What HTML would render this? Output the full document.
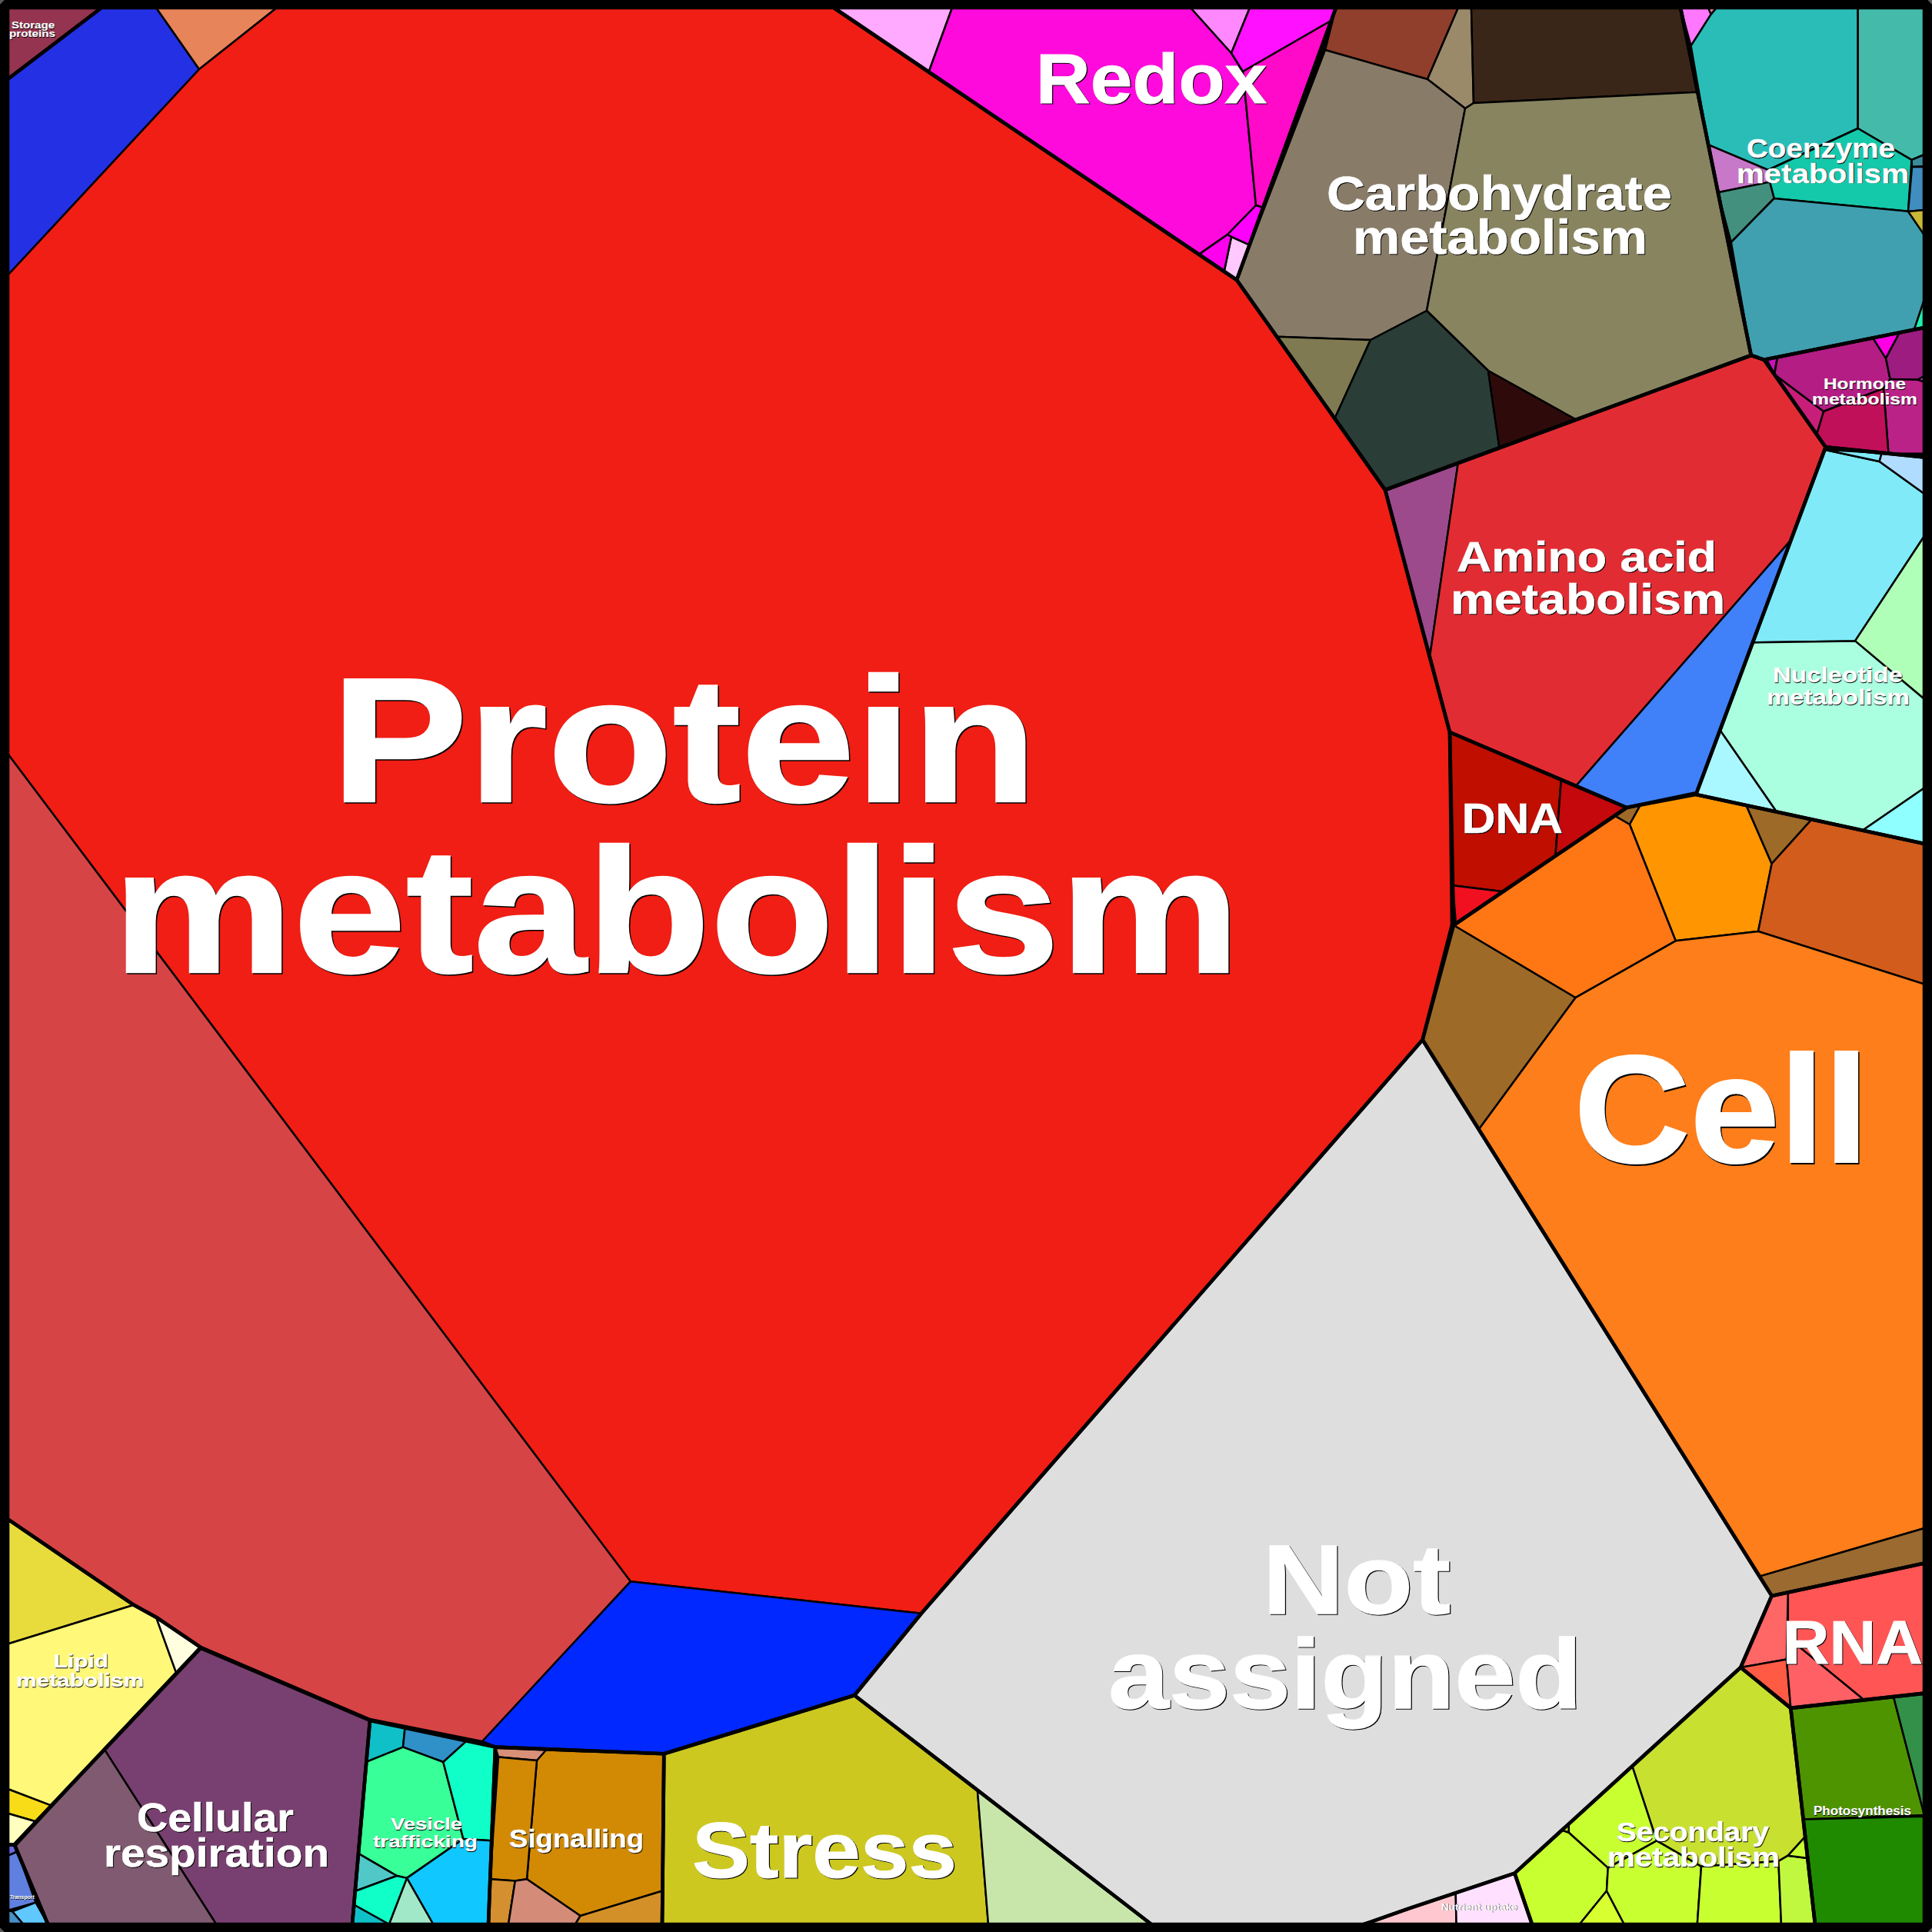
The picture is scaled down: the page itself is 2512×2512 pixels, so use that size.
<!DOCTYPE html><html><head><meta charset="utf-8"><style>html,body{margin:0;padding:0;background:#000;}svg{display:block;}</style></head><body>
<svg width="2512" height="2512" viewBox="0 0 2512 2512">
<rect x="0" y="0" width="2512" height="2512" fill="#5a5a5a"/>
<polygon fill="#000" points="6,0 2506,0 2512,6 2512,2506 2506,2512 6,2512 0,2506 0,6"/>
<g stroke="#000" stroke-width="2.5" stroke-linejoin="round">
<polygon fill="#943450" points="10,10 132,10 10,103"/>
<polygon fill="#2430E4" points="10,103 132,10 203,10 259,90 10,358"/>
<polygon fill="#E8845A" points="203,10 360,10 259,90"/>
<polygon fill="#F01E14" points="10,358 259,90 360,10 1084,10 1608,364 1801,637 1885,952 1888,1202 1849.6,1352 1198,2097.7 819.8,2056.3 10,980"/>
<polygon fill="#D74445" points="10,980 819.8,2056.3 626.3,2265 481,2236 260.9,2141.9 203,2102.7 174,2086.8 10,1975.2"/>
<polygon fill="#0028FF" points="819.8,2056.3 1198,2097.7 1111,2204.2 863.3,2280.3 644,2271.6 626.3,2265"/>
<polygon fill="#FFAAFF" points="1084,10 1238,10 1207.16,94.7352"/>
<polygon fill="#FF0ADD" points="1238,10 1548,10 1601,69 1616,93 1633,267 1596,305 1558.72,330.899 1207.16,94.7352"/>
<polygon fill="#FF88FF" points="1548,10 1625,10 1601,69"/>
<polygon fill="#FF10FF" points="1625,10 1737,10 1731.77,26.2809 1616,93 1601,69"/>
<polygon fill="#FF0AC8" points="1616,93 1731.77,26.2809 1642.48,269.91 1633,267"/>
<polygon fill="#FF00FF" points="1633,267 1642.48,269.91 1624.64,318.6 1601,308 1596,305"/>
<polygon fill="#FFC8FF" points="1601,308 1624.64,318.6 1608,364 1591.65,353.015"/>
<polygon fill="#FF00EE" points="1596,305 1601,308 1591.65,353.015 1558.72,330.899"/>
<polygon fill="#8F3F2C" points="1737,10 1896,10 1856,103 1723,65"/>
<polygon fill="#9A8A6A" points="1896,10 1913,10 1916,134 1905,141 1856,103"/>
<polygon fill="#3A2618" points="1913,10 2185,10 2206.99,119.798 1916,134"/>
<polygon fill="#887C68" points="1723,65 1856,103 1905,141 1855,404 1782,442 1660.07,437.656 1608,364"/>
<polygon fill="#888460" points="1905,141 1916,134 2206.99,119.798 2276.8,462 2049.25,545.692 1935,482 1855,404"/>
<polygon fill="#7F7A52" points="1660.07,437.656 1782,442 1735.36,544.157"/>
<polygon fill="#2A3D37" points="1782,442 1855,404 1935,482 1949.51,582.379 1801,637 1735.36,544.157"/>
<polygon fill="#2E0B0A" points="1935,482 2049.25,545.692 1949.51,582.379"/>
<polygon fill="#FF77FF" points="2185,10 2221,10 2224.7,18.6 2198.6,59.6"/>
<polygon fill="#FF88AA" points="2221,10 2232,10 2224.7,18.6"/>
<polygon fill="#2ABDB8" points="2232,10 2415.7,10 2415.7,167 2299,221 2220.95,188.215 2198.6,59.6 2224.7,18.6"/>
<polygon fill="#44BBAA" points="2415.7,10 2502,10 2502,201 2485.5,207.8 2415.7,167"/>
<polygon fill="#14C8AA" points="2415.7,167 2485.5,207.8 2481,274.8 2306.7,258 2301,236.6 2299,221"/>
<polygon fill="#C878C8" points="2220.95,188.215 2299,221 2301,236.6 2233.62,250.348"/>
<polygon fill="#44907F" points="2233.62,250.348 2301,236.6 2306.7,258 2250.8,315"/>
<polygon fill="#40A0B0" points="2250.8,315 2306.7,258 2481,274.8 2502,305.6 2502,389.4 2489,428.222 2293.6,467.7 2276.8,462"/>
<polygon fill="#20F0B0" points="2502,389.4 2489,428.222 2502,426"/>
<polygon fill="#3A8A9A" points="2485.5,207.8 2502,201 2502,216 2486,217"/>
<polygon fill="#3F8EBF" points="2486,217 2502,217 2502,273 2481,275"/>
<polygon fill="#C8B836" points="2481,275 2502,273 2502,305.6"/>
<polygon fill="#CC10BB" points="2297,467.013 2311,464.185 2306.88,486.544"/>
<polygon fill="#B31D84" points="2311,464.185 2434.99,439.135 2452,465.8 2457.6,492.9 2449,505 2371,535 2307.16,486.945"/>
<polygon fill="#FF00E6" points="2434.99,439.135 2469.99,432.063 2452,465.8"/>
<polygon fill="#9C1C80" points="2469.99,432.063 2502,426 2502,489 2493,493.8 2457.6,492.9 2452,465.8"/>
<polygon fill="#D040E0" points="2493,493.8 2502,489 2502,496.6"/>
<polygon fill="#BB2288" points="2457.6,493 2493,493.8 2502,496.6 2502,589.7 2455.41,589.81 2449,505"/>
<polygon fill="#C0105A" points="2371,535 2449,505 2455.41,589.81 2373.7,581.4 2361.98,564.768"/>
<polygon fill="#C81E7A" points="2307.16,486.945 2371,535 2361.98,564.768"/>
<polygon fill="#9C4A8C" points="1801,637 1895.77,602.143 1858.98,854.419"/>
<polygon fill="#E22C33" points="1895.77,602.143 2276.8,462 2293.6,467.7 2373.7,581.4 2328.62,702.08 2049.02,1021.89 1885,952 1858.98,854.419"/>
<polygon fill="#4080F8" points="2328.62,702.08 2206,1031 2115,1050 2049.02,1021.89"/>
<polygon fill="#80EAF8" points="2372.43,584.816 2443.6,600 2502,642 2502,697 2412,833.4 2278.94,835.455"/>
<polygon fill="#80EAF8" points="2372.43,584.816 2446.72,588.916 2443.6,600"/>
<polygon fill="#B0DCFF" points="2446.72,588.916 2502,594.4 2502,642 2443.6,600"/>
<polygon fill="#B0FFB8" points="2502,697 2412,833.4 2502,909"/>
<polygon fill="#AAFFE0" points="2278.94,835.455 2412,833.4 2502,909 2502,1024.5 2421.3,1079.93 2310.01,1055.78 2236.43,949.415"/>
<polygon fill="#AAF8FF" points="2236.43,949.415 2310.01,1055.78 2205,1033"/>
<polygon fill="#90FFFF" points="2421.3,1079.93 2502,1024.5 2502,1097"/>
<polygon fill="#C00E00" points="1885,952 2029.85,1013.72 2022.34,1113.01 1954.18,1159.35 1888.97,1151.26"/>
<polygon fill="#C4080C" points="2029.85,1013.72 2115,1050 2022.34,1113.01"/>
<polygon fill="#F01020" points="1888.97,1151.26 1954.18,1159.35 1892.93,1201.01"/>
<polygon fill="#9E6A28" points="2099.43,1060.59 2115,1050 2132.93,1046.61 2118.9,1072"/>
<polygon fill="#FF9500" points="2132.93,1046.61 2205,1033 2270.58,1047.23 2303.6,1123 2286,1211 2178.7,1223.3 2118.9,1072"/>
<polygon fill="#FF7715" points="1890,1203 2099.43,1060.59 2118.9,1072 2178.7,1223.3 2048.5,1297.2"/>
<polygon fill="#9E6A28" points="2270.58,1047.23 2355.33,1065.61 2303.6,1123"/>
<polygon fill="#D15C1C" points="2355.33,1065.61 2502,1097 2502,1279.6 2286,1211 2303.6,1123"/>
<polygon fill="#9E6A28" points="1890,1203 2048.5,1297.2 1922.75,1468.47 1849.6,1352"/>
<polygon fill="#FD7E1A" points="2048.5,1297.2 2178.7,1223.3 2286,1211 2502,1279.6 2502,1987 2287.75,2049.66 1922.75,1468.47"/>
<polygon fill="#9A6A30" points="2287.75,2049.66 2502,1987 2502,2032.6 2303.6,2074.9"/>
<polygon fill="#DEDEDE" points="1849.6,1352 2303.6,2074.9 2263.2,2168 1969.3,2435.6 1832,2481.4 1773.2,2502 1497,2502 1111,2204.2 1198,2097.7"/>
<polygon fill="#FF5555" points="2303.6,2074.9 2502,2032.6 2502,2201.6 2423.55,2210.19 2324.8,2129.4 2324.81,2070.33"/>
<polygon fill="#FF6666" points="2303.6,2074.9 2324.81,2070.33 2323,2157.6 2263.2,2168"/>
<polygon fill="#FF5A44" points="2263.2,2168 2323,2157.6 2328.3,2220.9"/>
<polygon fill="#FF6065" points="2324.8,2129.4 2423.55,2210.19 2328.3,2220.9 2323,2157.6"/>
<polygon fill="#4E9400" points="2328.3,2220.9 2461.9,2205.88 2502,2360 2344.73,2365.53"/>
<polygon fill="#339048" points="2461.9,2205.88 2502,2201.6 2502,2360 2502,2360"/>
<polygon fill="#1F8A00" points="2344.73,2365.53 2502,2361.7 2502,2502 2360,2502"/>
<polygon fill="#C8E030" points="2263.2,2168 2328.3,2220.9 2347.26,2387.86 2324.8,2412.7 2312.4,2419.8 2212,2426.8 2154,2393.4 2122.23,2296.36"/>
<polygon fill="#C8FF30" points="2122.23,2296.36 2154,2393.4 2090.7,2428.6 2039.7,2382.8 2039.7,2371.5"/>
<polygon fill="#B8E020" points="2030.71,2379.68 2039.7,2371.5 2039.7,2382.8"/>
<polygon fill="#C8FF30" points="2039.7,2382.8 2090.7,2428.6 2089,2458.5 2053.7,2502 1992,2502 1969.3,2435.6 2030.71,2379.68"/>
<polygon fill="#D8FF30" points="2053.7,2502 2089,2458.5 2111.8,2502"/>
<polygon fill="#C8FF30" points="2090.7,2428.6 2154,2393.4 2212,2426.8 2206.8,2502 2111.8,2502 2089,2458.5"/>
<polygon fill="#C8FF30" points="2212,2426.8 2312.4,2419.8 2316,2502 2206.8,2502"/>
<polygon fill="#C0F840" points="2312.4,2419.8 2324.8,2412.7 2350.46,2415.98 2360,2502 2316,2502"/>
<polygon fill="#C8FF30" points="2324.8,2412.7 2347.26,2387.86 2350.46,2415.98"/>
<polygon fill="#FFC8D0" points="1832,2481.4 1892.71,2461.15 1893.6,2502 1773.2,2502"/>
<polygon fill="#FFE0FF" points="1892.71,2461.15 1969.3,2435.6 1992,2502 1893.6,2502"/>
<polygon fill="#CCC820" points="863.3,2280.3 1111,2204.2 1270.82,2326.67 1285,2502 861,2502"/>
<polygon fill="#C8E6AA" points="1270.82,2326.67 1497,2502 1285,2502"/>
<polygon fill="#D28A04" points="698.089,2273.75 863.3,2280.3 861.434,2458.53 754.6,2491 685,2443.3 698,2289"/>
<polygon fill="#D89078" points="644,2271.6 711.069,2274.26 698,2289 648,2284.6"/>
<polygon fill="#D28A04" points="648,2284.6 698,2289 685,2443.3 669.8,2445.5 637.238,2443.21"/>
<polygon fill="#D49030" points="637.238,2443.21 669.8,2445.5 661,2502 635,2502"/>
<polygon fill="#D48C78" points="669.8,2445.5 685,2443.3 754.6,2491 748,2502 661,2502"/>
<polygon fill="#D49028" points="754.6,2491 861.434,2458.53 861,2502 748,2502"/>
<polygon fill="#10C0C8" points="481,2237 526.52,2246.66 524,2271.6 476.294,2290.81"/>
<polygon fill="#3090C8" points="526.52,2246.66 606.657,2263.67 576.3,2291 524,2271.6"/>
<polygon fill="#38FF98" points="476.294,2290.81 524,2271.6 576.3,2291 602.4,2391 529,2441.9 516,2439 465.877,2409.93"/>
<polygon fill="#10FFC8" points="606.657,2263.67 644,2271.6 639.205,2393.29 602.4,2391 576.3,2291"/>
<polygon fill="#10C8FF" points="602.4,2391 639.205,2393.29 635,2502 563.3,2502 529,2441.9"/>
<polygon fill="#A0E8C8" points="529,2441.9 563.3,2502 505.8,2502"/>
<polygon fill="#50C8C8" points="465.877,2409.93 516,2439 461.585,2459.01"/>
<polygon fill="#10FFC8" points="461.585,2459.01 516,2439 529,2441.9 505.8,2502 460.053,2476.53"/>
<polygon fill="#10C0C8" points="460.053,2476.53 505.8,2502 458,2502"/>
<polygon fill="#E8DC3C" points="10,1975.2 174,2086.8 10,2137.5"/>
<polygon fill="#FFF878" points="10,2137.5 174,2086.8 203,2102.7 229.248,2175.43 135.887,2274.88 66.6755,2347.68 10,2326"/>
<polygon fill="#FFFFE0" points="203,2102.7 260.9,2141.9 229.248,2175.43"/>
<polygon fill="#F8DC18" points="10,2326 66.6755,2347.68 46.9782,2368.55 10,2357.8"/>
<polygon fill="#FFFFC0" points="10,2357.8 46.9782,2368.55 18.8,2398.4 10,2398.4"/>
<polygon fill="#784070" points="260.9,2143 481,2237 458,2502 281.2,2502 135.887,2274.88"/>
<polygon fill="#7F5A70" points="135.887,2274.88 281.2,2502 62.3,2502 19.7558,2400.63"/>
<polygon fill="#6A6AE0" points="10,2398.4 18.8,2398.4 22.6868,2407.48 10,2412.9"/>
<polygon fill="#6080E0" points="10,2412.9 22.6868,2407.48 46.4,2473.7 10,2484"/>
<polygon fill="#60C8FF" points="16,2485.3 46.4,2473.7 62.3,2502 30.4,2502"/>
<polygon fill="#4890C8" points="10,2484 16,2485.3 30.4,2502 10,2502"/>
</g>
<g fill="none" stroke="#000" stroke-width="4.6" stroke-linejoin="round">
<polygon points="10,10 132,10 10,103"/>
<polygon points="132,10 1084,10 1608,364 1801,637 1885,952 1888,1202 1849.6,1352 1198,2097.7 1111,2204.2 863.3,2280.3 644,2271.6 626.3,2265 481,2236 260.9,2141.9 203,2102.7 174,2086.8 10,1975.2 10,103"/>
<polygon points="1084,10 1737,10 1608,364"/>
<polygon points="1737,10 2185,10 2276.8,462 1801,637 1608,364"/>
<polygon points="2185,10 2502,10 2502,426 2293.6,467.7 2276.8,462"/>
<polygon points="2293.6,467.7 2502,426 2502,594.4 2373.7,581.4"/>
<polygon points="1801,637 2276.8,462 2293.6,467.7 2373.7,581.4 2206,1031 2115,1050 1885,952"/>
<polygon points="2373.7,581.4 2502,594.4 2502,1097 2205,1033"/>
<polygon points="1885,952 2115,1050 1890,1203"/>
<polygon points="1890,1203 2115,1050 2205,1033 2502,1097 2502,2032.6 2303.6,2074.9 1849.6,1352"/>
<polygon points="1849.6,1352 2303.6,2074.9 2263.2,2168 1969.3,2435.6 1832,2481.4 1773.2,2502 1497,2502 1111,2204.2 1198,2097.7"/>
<polygon points="2303.6,2074.9 2502,2032.6 2502,2201.6 2328.3,2220.9 2263.2,2168"/>
<polygon points="2328.3,2220.9 2502,2201.6 2502,2502 2360,2502"/>
<polygon points="2263.2,2168 2328.3,2220.9 2360,2502 1992,2502 1969.3,2435.6"/>
<polygon points="1969.3,2435.6 1992,2502 1773.2,2502 1832,2481.4"/>
<polygon points="863.3,2280.3 1111,2204.2 1497,2502 861,2502"/>
<polygon points="644,2271.6 863.3,2280.3 861,2502 635,2502"/>
<polygon points="481,2237 644,2271.6 635,2502 458,2502"/>
<polygon points="10,1975.2 174,2086.8 203,2102.7 260.9,2141.9 18.8,2398.4 10,2398.4"/>
<polygon points="260.9,2143 481,2237 458,2502 62.3,2502 18.8,2398.4"/>
<polygon points="18.8,2398.4 62.3,2502 10,2502 10,2398.4"/>
</g>
<path fill="#000" fill-rule="evenodd" d="M6,0 H2506 L2512,6 V2506 L2506,2512 H6 L0,2506 V6 Z M12,12 V2500.5 H2500.5 V12 Z"/>
<g font-family="Liberation Sans, sans-serif" font-weight="bold" opacity="0.999">
<text x="15.57" y="37.70" fill="#000" stroke="#000" font-size="12.57" textLength="56.05" lengthAdjust="spacingAndGlyphs" stroke-width="0.13">Storage</text>
<text x="14.97" y="37.10" fill="#fff" stroke="#fff" font-size="12.57" textLength="56.05" lengthAdjust="spacingAndGlyphs" stroke-width="0.13">Storage</text>
<text x="12.58" y="48.60" fill="#000" stroke="#000" font-size="12.57" textLength="60.04" lengthAdjust="spacingAndGlyphs" stroke-width="0.13">proteins</text>
<text x="11.98" y="48.00" fill="#fff" stroke="#fff" font-size="12.57" textLength="60.04" lengthAdjust="spacingAndGlyphs" stroke-width="0.13">proteins</text>
<text x="1348.05" y="134.70" fill="#000" stroke="#000" font-size="91.26" textLength="300.19" lengthAdjust="spacingAndGlyphs" stroke-width="0.91">Redox</text>
<text x="1346.85" y="133.50" fill="#fff" stroke="#fff" font-size="91.26" textLength="300.19" lengthAdjust="spacingAndGlyphs" stroke-width="0.91">Redox</text>
<text x="1725.97" y="274.30" fill="#000" stroke="#000" font-size="63.14" textLength="449.05" lengthAdjust="spacingAndGlyphs" stroke-width="0.63">Carbohydrate</text>
<text x="1724.97" y="273.30" fill="#fff" stroke="#fff" font-size="63.14" textLength="449.05" lengthAdjust="spacingAndGlyphs" stroke-width="0.63">Carbohydrate</text>
<text x="1759.92" y="330.60" fill="#000" stroke="#000" font-size="63.14" textLength="383.18" lengthAdjust="spacingAndGlyphs" stroke-width="0.63">metabolism</text>
<text x="1758.92" y="329.60" fill="#fff" stroke="#fff" font-size="63.14" textLength="383.18" lengthAdjust="spacingAndGlyphs" stroke-width="0.63">metabolism</text>
<text x="2271.77" y="205.80" fill="#000" stroke="#000" font-size="34.30" textLength="193.04" lengthAdjust="spacingAndGlyphs" stroke-width="0.34">Coenzyme</text>
<text x="2270.97" y="205.00" fill="#fff" stroke="#fff" font-size="34.30" textLength="193.04" lengthAdjust="spacingAndGlyphs" stroke-width="0.34">Coenzyme</text>
<text x="2258.74" y="238.40" fill="#000" stroke="#000" font-size="34.30" textLength="224.10" lengthAdjust="spacingAndGlyphs" stroke-width="0.34">metabolism</text>
<text x="2257.94" y="237.60" fill="#fff" stroke="#fff" font-size="34.30" textLength="224.10" lengthAdjust="spacingAndGlyphs" stroke-width="0.34">metabolism</text>
<text x="2371.56" y="506.50" fill="#000" stroke="#000" font-size="21.01" textLength="107.05" lengthAdjust="spacingAndGlyphs" stroke-width="0.21">Hormone</text>
<text x="2370.96" y="505.90" fill="#fff" stroke="#fff" font-size="21.01" textLength="107.05" lengthAdjust="spacingAndGlyphs" stroke-width="0.21">Hormone</text>
<text x="2356.58" y="526.60" fill="#000" stroke="#000" font-size="21.01" textLength="137.04" lengthAdjust="spacingAndGlyphs" stroke-width="0.21">metabolism</text>
<text x="2355.98" y="526.00" fill="#fff" stroke="#fff" font-size="21.01" textLength="137.04" lengthAdjust="spacingAndGlyphs" stroke-width="0.21">metabolism</text>
<text x="1894.97" y="744.30" fill="#000" stroke="#000" font-size="56.24" textLength="338.10" lengthAdjust="spacingAndGlyphs" stroke-width="0.56">Amino acid</text>
<text x="1893.97" y="743.30" fill="#fff" stroke="#fff" font-size="56.24" textLength="338.10" lengthAdjust="spacingAndGlyphs" stroke-width="0.56">Amino acid</text>
<text x="1886.90" y="799.00" fill="#000" stroke="#000" font-size="56.24" textLength="357.17" lengthAdjust="spacingAndGlyphs" stroke-width="0.56">metabolism</text>
<text x="1885.90" y="798.00" fill="#fff" stroke="#fff" font-size="56.24" textLength="357.17" lengthAdjust="spacingAndGlyphs" stroke-width="0.56">metabolism</text>
<text x="2305.65" y="888.00" fill="#000" stroke="#000" font-size="26.99" textLength="169.06" lengthAdjust="spacingAndGlyphs" stroke-width="0.27">Nucleotide</text>
<text x="2304.95" y="887.30" fill="#fff" stroke="#fff" font-size="26.99" textLength="169.06" lengthAdjust="spacingAndGlyphs" stroke-width="0.27">Nucleotide</text>
<text x="2297.66" y="916.60" fill="#000" stroke="#000" font-size="26.99" textLength="186.09" lengthAdjust="spacingAndGlyphs" stroke-width="0.27">metabolism</text>
<text x="2296.96" y="915.90" fill="#fff" stroke="#fff" font-size="26.99" textLength="186.09" lengthAdjust="spacingAndGlyphs" stroke-width="0.27">metabolism</text>
<text x="1901.86" y="1083.50" fill="#000" stroke="#000" font-size="55.62" textLength="131.22" lengthAdjust="spacingAndGlyphs" stroke-width="0.56">DNA</text>
<text x="1900.86" y="1082.50" fill="#fff" stroke="#fff" font-size="55.62" textLength="131.22" lengthAdjust="spacingAndGlyphs" stroke-width="0.56">DNA</text>
<text x="431.90" y="1043.50" fill="#000" stroke="#000" font-size="230.72" textLength="918.17" lengthAdjust="spacingAndGlyphs" stroke-width="2.31">Protein</text>
<text x="430.40" y="1042.00" fill="#fff" stroke="#fff" font-size="230.72" textLength="918.17" lengthAdjust="spacingAndGlyphs" stroke-width="2.31">Protein</text>
<text x="148.13" y="1265.50" fill="#000" stroke="#000" font-size="230.72" textLength="1465.71" lengthAdjust="spacingAndGlyphs" stroke-width="2.31">metabolism</text>
<text x="146.63" y="1264.00" fill="#fff" stroke="#fff" font-size="230.72" textLength="1465.71" lengthAdjust="spacingAndGlyphs" stroke-width="2.31">metabolism</text>
<text x="2048.01" y="1512.50" fill="#000" stroke="#000" font-size="197.76" textLength="383.32" lengthAdjust="spacingAndGlyphs" stroke-width="1.98">Cell</text>
<text x="2046.51" y="1511.00" fill="#fff" stroke="#fff" font-size="197.76" textLength="383.32" lengthAdjust="spacingAndGlyphs" stroke-width="1.98">Cell</text>
<text x="1642.82" y="2098.90" fill="#000" stroke="#000" font-size="128.24" textLength="244.46" lengthAdjust="spacingAndGlyphs" stroke-width="1.28">Not</text>
<text x="1641.62" y="2097.70" fill="#fff" stroke="#fff" font-size="128.24" textLength="244.46" lengthAdjust="spacingAndGlyphs" stroke-width="1.28">Not</text>
<text x="1442.12" y="2222.10" fill="#000" stroke="#000" font-size="128.24" textLength="616.27" lengthAdjust="spacingAndGlyphs" stroke-width="1.28">assigned</text>
<text x="1440.92" y="2220.90" fill="#fff" stroke="#fff" font-size="128.24" textLength="616.27" lengthAdjust="spacingAndGlyphs" stroke-width="1.28">assigned</text>
<text x="2318.79" y="2163.80" fill="#000" stroke="#000" font-size="79.31" textLength="182.29" lengthAdjust="spacingAndGlyphs" stroke-width="0.79">RNA</text>
<text x="2317.79" y="2162.80" fill="#fff" stroke="#fff" font-size="79.31" textLength="182.29" lengthAdjust="spacingAndGlyphs" stroke-width="0.79">RNA</text>
<text x="2358.48" y="2360.50" fill="#000" stroke="#000" font-size="16.48" textLength="127.02" lengthAdjust="spacingAndGlyphs" stroke-width="0.16">Photosynthesis</text>
<text x="2357.98" y="2360.00" fill="#fff" stroke="#fff" font-size="16.48" textLength="127.02" lengthAdjust="spacingAndGlyphs" stroke-width="0.16">Photosynthesis</text>
<text x="2102.79" y="2394.90" fill="#000" stroke="#000" font-size="34.81" textLength="198.01" lengthAdjust="spacingAndGlyphs" stroke-width="0.35">Secondary</text>
<text x="2101.99" y="2394.10" fill="#fff" stroke="#fff" font-size="34.81" textLength="198.01" lengthAdjust="spacingAndGlyphs" stroke-width="0.35">Secondary</text>
<text x="2090.75" y="2427.60" fill="#000" stroke="#000" font-size="34.81" textLength="224.11" lengthAdjust="spacingAndGlyphs" stroke-width="0.35">metabolism</text>
<text x="2089.95" y="2426.80" fill="#fff" stroke="#fff" font-size="34.81" textLength="224.11" lengthAdjust="spacingAndGlyphs" stroke-width="0.35">metabolism</text>
<text x="1874.49" y="2484.30" fill="#000" stroke="#000" font-size="11.85" textLength="99.02" lengthAdjust="spacingAndGlyphs" stroke-width="0.12">Nutrient uptake</text>
<text x="1873.99" y="2483.80" fill="#fff" stroke="#fff" font-size="11.85" textLength="99.02" lengthAdjust="spacingAndGlyphs" stroke-width="0.12">Nutrient uptake</text>
<text x="901.13" y="2442.30" fill="#000" stroke="#000" font-size="101.35" textLength="344.16" lengthAdjust="spacingAndGlyphs" stroke-width="1.01">Stress</text>
<text x="899.93" y="2441.10" fill="#fff" stroke="#fff" font-size="101.35" textLength="344.16" lengthAdjust="spacingAndGlyphs" stroke-width="1.01">Stress</text>
<text x="662.78" y="2402.80" fill="#000" stroke="#000" font-size="33.99" textLength="175.06" lengthAdjust="spacingAndGlyphs" stroke-width="0.34">Signalling</text>
<text x="661.98" y="2402.00" fill="#fff" stroke="#fff" font-size="33.99" textLength="175.06" lengthAdjust="spacingAndGlyphs" stroke-width="0.34">Signalling</text>
<text x="508.59" y="2379.60" fill="#000" stroke="#000" font-size="22.66" textLength="93.03" lengthAdjust="spacingAndGlyphs" stroke-width="0.23">Vesicle</text>
<text x="507.99" y="2379.00" fill="#fff" stroke="#fff" font-size="22.66" textLength="93.03" lengthAdjust="spacingAndGlyphs" stroke-width="0.23">Vesicle</text>
<text x="485.60" y="2402.60" fill="#000" stroke="#000" font-size="22.66" textLength="136.02" lengthAdjust="spacingAndGlyphs" stroke-width="0.23">trafficking</text>
<text x="485.00" y="2402.00" fill="#fff" stroke="#fff" font-size="22.66" textLength="136.02" lengthAdjust="spacingAndGlyphs" stroke-width="0.23">trafficking</text>
<text x="178.96" y="2382.00" fill="#000" stroke="#000" font-size="51.19" textLength="204.06" lengthAdjust="spacingAndGlyphs" stroke-width="0.51">Cellular</text>
<text x="177.96" y="2381.00" fill="#fff" stroke="#fff" font-size="51.19" textLength="204.06" lengthAdjust="spacingAndGlyphs" stroke-width="0.51">Cellular</text>
<text x="135.92" y="2428.40" fill="#000" stroke="#000" font-size="51.19" textLength="293.16" lengthAdjust="spacingAndGlyphs" stroke-width="0.51">respiration</text>
<text x="134.92" y="2427.40" fill="#fff" stroke="#fff" font-size="51.19" textLength="293.16" lengthAdjust="spacingAndGlyphs" stroke-width="0.51">respiration</text>
<text x="70.48" y="2168.60" fill="#000" stroke="#000" font-size="24.62" textLength="71.16" lengthAdjust="spacingAndGlyphs" stroke-width="0.25">Lipid</text>
<text x="69.88" y="2168.00" fill="#fff" stroke="#fff" font-size="24.62" textLength="71.16" lengthAdjust="spacingAndGlyphs" stroke-width="0.25">Lipid</text>
<text x="21.57" y="2193.80" fill="#000" stroke="#000" font-size="24.62" textLength="166.07" lengthAdjust="spacingAndGlyphs" stroke-width="0.25">metabolism</text>
<text x="20.97" y="2193.20" fill="#fff" stroke="#fff" font-size="24.62" textLength="166.07" lengthAdjust="spacingAndGlyphs" stroke-width="0.25">metabolism</text>
<text x="13.37" y="2469.70" fill="#000" stroke="#000" font-size="7.21" textLength="31.85" lengthAdjust="spacingAndGlyphs" stroke-width="0.07">Transport</text>
<text x="12.97" y="2469.30" fill="#fff" stroke="#fff" font-size="7.21" textLength="31.85" lengthAdjust="spacingAndGlyphs" stroke-width="0.07">Transport</text>
</g></svg></body></html>
